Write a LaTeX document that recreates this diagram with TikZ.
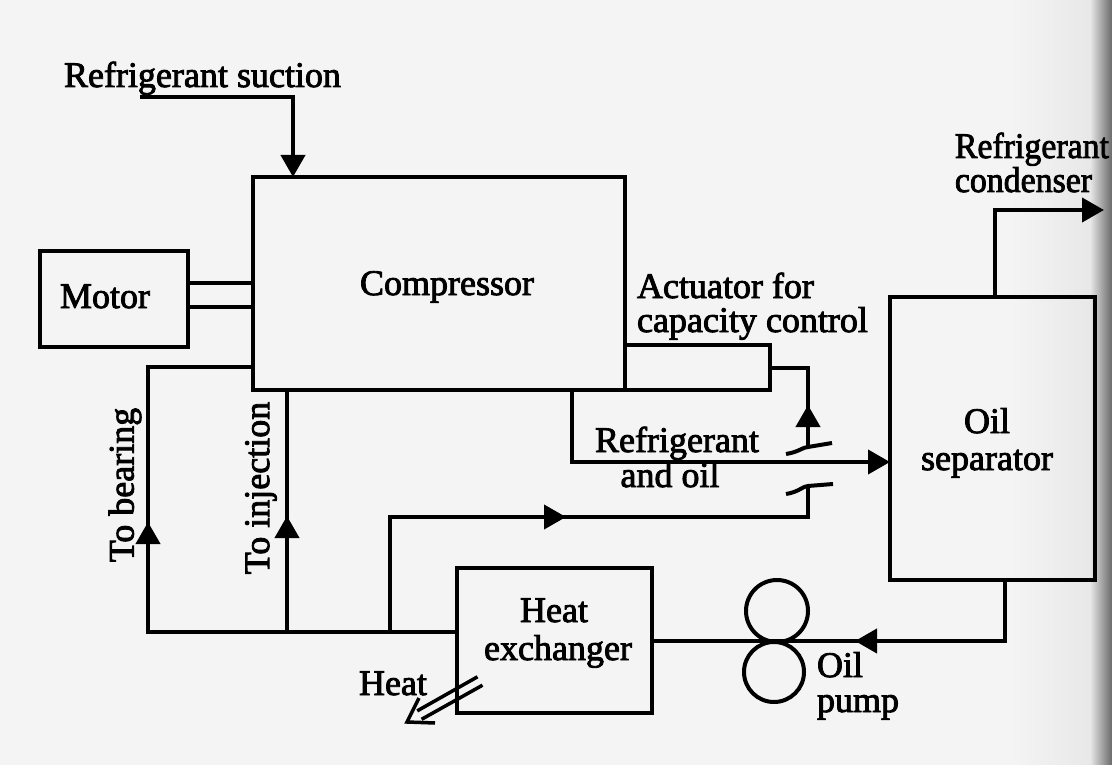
\documentclass[tikz,border=0pt]{standalone}
\usepackage{fontspec}
\setmainfont{Liberation Serif}
\newfontfamily\lblfont{Liberation Serif}[BoldFont={Liberation Serif}, BoldFeatures={FakeBold=2.4}]
\usetikzlibrary{arrows.meta}
\definecolor{bg}{RGB}{244,244,244}
\definecolor{edge}{RGB}{105,105,105}
\begin{document}
\begin{tikzpicture}[x=1pt,y=-1pt,
  line width=4pt,
  box/.style={draw, line width=4pt, inner sep=0pt, outer sep=0pt},
  pumpc/.style={draw, circle, line width=4pt, inner sep=0pt, outer sep=0pt},
  lbl/.style={font=\lblfont\bfseries\fontsize{36}{34}\selectfont, inner sep=0pt},
  tip/.style={-{Triangle[length=22pt,width=24pt]}},
  ]
\useasboundingbox (0,0) rectangle (1112,765);
\fill[bg] (0,0) rectangle (1112,765);
\shade[left color=bg, right color=gray!18] (1010,0) rectangle (1090,765);
\shade[left color=gray!18, right color=edge] (1090,0) rectangle (1112,765);

% boxes
\node[box, minimum width=148, minimum height=96] (motor) at (114,299) {};
\node[box, minimum width=372, minimum height=213] (comp) at (439,283.5) {};
\node[box, minimum width=145, minimum height=45] (act) at (697.5,367.5) {};
\node[box, minimum width=205, minimum height=283] (sep) at (992.5,438.5) {};
\node[box, minimum width=195, minimum height=145] (hx) at (554.5,640.5) {};
\node[pumpc, minimum size=62] (pumpA) at (777,611) {};
\node[pumpc, minimum size=60] (pumpB) at (774,672) {};

% coordinates
\coordinate (sucL) at (140,97);
\coordinate (sucC) at (293,97);
\coordinate (sh1) at (0,283);
\coordinate (sh2) at (0,307);
\coordinate (v1) at (808,447);
\coordinate (ro) at (572,462);
\coordinate (v2) at (808,486);
\coordinate (hxj) at (390,517);
\coordinate (bl) at (148,632);
\coordinate (bt) at (148,367);
\coordinate (inj) at (287,632);
\coordinate (sd) at (1005,641);
\coordinate (cd) at (995,210);
\coordinate (cdEnd) at (1104,210);

% suction
\draw[tip] (sucL) -- (sucC) -- (sucC |- comp.north);
% motor shafts
\draw (motor.east |- sh1) -- (comp.west |- sh1);
\draw (motor.east |- sh2) -- (comp.west |- sh2);
% actuator outlet
\draw (act.east) -- (act.east -| v1) -- (v1);
\draw[tip] (808,428) -- (808,405);
\draw (786,454) .. controls (799,452) and (803,447) .. (v1) -- (832,443);
% refrigerant and oil
\draw[tip] (comp.south -| ro) -- (ro) -- (ro -| sep.west);
% lower stub
\draw (786,494) .. controls (799,492) and (803,486) .. (v2) -- (833,484);
\draw (v2) -- (v2 |- hxj) -- (hxj) -- (hxj |- bl);
\draw[tip] (540,517) -- (566,517);
% to bearing
\draw (hx.west |- bl) -- (bl) -- (bt) -- (comp.west |- bt);
\draw[tip] (148,546) -- (148,522);
% to injection
\draw (inj) -- (inj |- comp.south);
\draw[tip] (287,540) -- (287,516);
% oil loop
\draw (sep.south -| sd) -- (sd) -- (hx.east |- sd);
\draw[tip] (880,641) -- (855,641);
% condenser
\draw[tip] (sep.north -| cd) -- (cd) -- (cdEnd);
% heat (open double arrow)
\draw[line width=3.5pt] (477.5,676.8) -- (417.2,710.9);
\draw[line width=3.5pt] (482.5,685.2) -- (421.6,719.3);
\draw[line width=3.5pt, line join=miter] (419,698) -- (407,722) -- (435,723);

% labels
\node[lbl, anchor=base west] (tSuc) at (62,87) {Refrigerant suction};
\node[lbl, anchor=base] (tComp) at (447,295) {Compressor};
\node[lbl, anchor=base west] (tMotor) at (58,308) {Motor};
\node[lbl, anchor=base west] (tAct1) at (635,298) {Actuator for};
\node[lbl, anchor=base west] (tAct2) at (635,332) {capacity control};
\node[lbl, anchor=base] (tRO1) at (677,452) {Refrigerant};
\node[lbl, anchor=base] (tRO2) at (670,487) {and oil};
\node[lbl, anchor=base] (tSep1) at (987,433) {Oil};
\node[lbl, anchor=base] (tSep2) at (987,470) {separator};
\node[lbl, anchor=base] (tHx1) at (554,622) {Heat};
\node[lbl, anchor=base] (tHx2) at (558,660) {exchanger};
\node[lbl, anchor=base] (tHeat) at (393,695) {Heat};
\node[lbl, anchor=base west] (tPump1) at (815,677) {Oil};
\node[lbl, anchor=base west] (tPump2) at (815,712) {pump};
\node[lbl, anchor=base west, xscale=0.94] (tCond1) at (953,158) {Refrigerant};
\node[lbl, anchor=base west, xscale=0.94] (tCond2) at (953,192) {condenser};
\node[lbl, rotate=90] (tBear) at (125,485) {To bearing};
\node[lbl, rotate=90] (tInj) at (261,488) {To injection};
\end{tikzpicture}
\end{document}
